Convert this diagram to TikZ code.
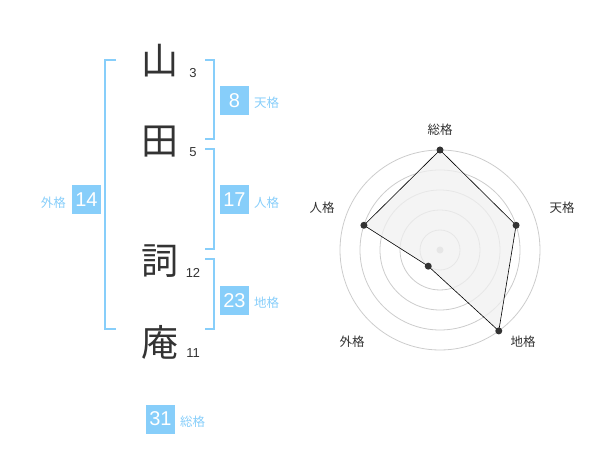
\documentclass[tikz,border=0pt]{standalone}
\usepackage{fontspec}
\setmainfont{Liberation Sans}
\newfontfamily\jp{Noto Sans CJK JP}
\definecolor{sky}{HTML}{87CEFA}
\definecolor{ink}{HTML}{333333}
\definecolor{ring}{HTML}{CCCCCC}
\definecolor{area}{HTML}{F0F0F0}
\begin{document}
\begin{tikzpicture}[x=1pt,y=-1pt,
  kanji/.style={font=\jp\fontsize{37}{37}\selectfont,text=ink,inner sep=0pt},
  strokes/.style={font=\fontsize{13}{13}\selectfont,text=ink,inner sep=0pt},
  numbox/.style={fill=sky,text=white,minimum width=29pt,minimum height=29pt,inner sep=0pt,font=\fontsize{20}{20}\selectfont},
  lbl/.style={font=\jp\fontsize{12.5}{12.5}\selectfont,text=sky,inner sep=0pt},
  bracket/.style={draw=sky,line width=2pt},
  rlbl/.style={font=\jp\fontsize{12.5}{12.5}\selectfont,text=ink,inner sep=0pt},
  dot/.style={circle,fill=ink,inner sep=0pt,minimum size=7pt}]
\useasboundingbox (0,0) rectangle (600,470);
% characters
\node[kanji] (c1) at (160,61) {山};
\node[kanji] (c2) at (160,142) {田};
\node[kanji] (c3) at (160,261) {詞};
\node[kanji] (c4) at (160,342) {庵};
\node[strokes] (s1) at (193,73) {3};
\node[strokes] (s2) at (193,152) {5};
\node[strokes] (s3) at (193,273) {12};
\node[strokes] (s4) at (193,353) {11};
% brackets
\draw[bracket] (116,60) -- (105,60) -- (105,329) -- (116,329);
\draw[bracket] (205,60) -- (214,60) -- (214,139) -- (205,139);
\draw[bracket] (205,149) -- (214,149) -- (214,249) -- (205,249);
\draw[bracket] (205,259) -- (214,259) -- (214,329) -- (205,329);
% boxes
\node[numbox] (b8) at (234.5,100.5) {8};
\node[lbl,anchor=west] (l8) at (254,103) {天格};
\node[numbox] (b17) at (234.5,200) {17};
\node[lbl,anchor=west] (l17) at (254,203) {人格};
\node[numbox] (b23) at (234.5,300.5) {23};
\node[lbl,anchor=west] (l23) at (254,303) {地格};
\node[numbox] (b14) at (86.5,200) {14};
\node[lbl,anchor=east] (l14) at (66,203) {外格};
\node[numbox] (b31) at (160.5,419) {31};
\node[lbl,anchor=west] (l31) at (180,422) {総格};
% radar
\begin{scope}[shift={(440,250)}]
  \foreach \r in {20,40,60,80,100} \draw[ring,line width=0.8pt] (0,0) circle (\r);
  \fill[ring] (0,0) circle (3.5);
  \coordinate (p1) at (-90:100);
  \coordinate (p2) at (-18:80);
  \coordinate (p3) at (54:100);
  \coordinate (p4) at (126:20);
  \coordinate (p5) at (198:80);
  \filldraw[fill=area,fill opacity=0.75,draw=black,line width=0.6pt] (p1) -- (p2) -- (p3) -- (p4) -- (p5) -- cycle;
  \foreach \p in {p1,p2,p3,p4,p5} \node[dot] at (\p) {};
\end{scope}
\node[rlbl] (r1) at (440,130) {総格};
\node[rlbl] (r2) at (562,208) {天格};
\node[rlbl] (r3) at (523,342) {地格};
\node[rlbl] (r4) at (352,342) {外格};
\node[rlbl] (r5) at (322,208) {人格};
\end{tikzpicture}
\end{document}
